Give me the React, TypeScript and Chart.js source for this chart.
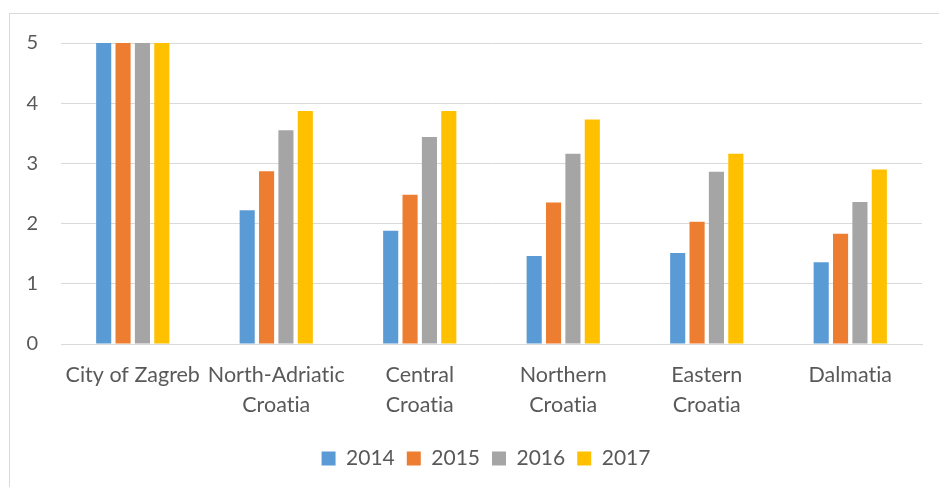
import React, { useEffect, useRef } from "react";
import { Chart, registerables } from "chart.js";

Chart.register(...registerables);

const categories: string[][] = [
  ["City of Zagreb"],
  ["North-Adriatic", "Croatia"],
  ["Central", "Croatia"],
  ["Northern", "Croatia"],
  ["Eastern", "Croatia"],
  ["Dalmatia"],
];
const years = ["2014", "2015", "2016", "2017"];
const values2014 = [5, 2.22, 1.88, 1.46, 1.51, 1.36];
const values2015 = [5, 2.87, 2.48, 2.35, 2.03, 1.83];
const values2016 = [5, 3.55, 3.44, 3.16, 2.86, 2.36];
const values2017 = [5, 3.87, 3.87, 3.73, 3.16, 2.9];
const colors = ["#5B9BD5", "#ED7D31", "#A5A5A5", "#FFC000"];
const yTicks = [0, 1, 2, 3, 4, 5];

const FONT = "Lato, 'Open Sans', sans-serif";
const TEXT = "#595959";

const frame = {
  id: "frame",
  beforeDraw(chart: any) {
    const ctx = chart.ctx;
    try {
      ctx.textRendering = "optimizeSpeed";
    } catch (e) {}
    ctx.save();
    ctx.fillStyle = "#ffffff";
    ctx.fillRect(0, 0, chart.width, chart.height);
    ctx.strokeStyle = "#D9D9D9";
    ctx.lineWidth = 1;
    ctx.strokeRect(9.5, 13.5, 2000, 2000);
    ctx.restore();
  },
  afterLayout(chart: any) {
    const lg = chart.legend;
    if (lg) {
      lg.left += 25;
      lg.right += 25;
    }
  },
};

export default function App() {
  const ref = useRef<HTMLCanvasElement | null>(null);
  useEffect(() => {
    if (!ref.current) return;
    const series = [values2014, values2015, values2016, values2017];
    const chart = new Chart(ref.current, {
      type: "bar",
      data: {
        labels: categories,
        datasets: years.map((y, i) => ({
          label: y,
          data: series[i],
          backgroundColor: colors[i],
          borderWidth: 0,
          barPercentage: 0.78,
          categoryPercentage: 0.54,
        })),
      },
      options: {
        animation: false,
        responsive: false,
        maintainAspectRatio: false,
        layout: { padding: { top: 43, right: 17, left: 0, bottom: 8 } },
        plugins: {
          tooltip: { enabled: false },
          legend: {
            position: "bottom",
            labels: {
              boxWidth: 14,
              boxHeight: 14,
              padding: 12,
              color: TEXT,
              font: { family: FONT, size: 21 },
            },
          },
        },
        scales: {
          x: {
            grid: { display: false, drawTicks: false },
            border: { display: true, color: "#D9D9D9", width: 1 },
            ticks: {
              color: TEXT,
              font: { family: FONT, size: 21.5, lineHeight: 1.4 },
              padding: 16,
              maxRotation: 0,
              autoSkip: false,
            },
            afterFit(scale: any) {
              scale.height = 92;
            },
          },
          y: {
            min: 0,
            max: 5,
            afterBuildTicks(scale: any) {
              scale.ticks = yTicks.map((v) => ({ value: v }));
            },
            grid: { color: "#D9D9D9", lineWidth: 1, drawTicks: false },
            border: { display: false },
            ticks: {
              color: TEXT,
              font: { family: FONT, size: 20 },
              padding: 23,
            },
            afterFit(scale: any) {
              scale.width = 61;
            },
          },
        },
      },
      plugins: [frame],
    });
    return () => chart.destroy();
  }, []);
  return (
    <div style={{ position: "fixed", left: 0, top: 0, width: 939, height: 487, background: "#fff" }}>
      <canvas ref={ref} width={939} height={487} style={{ width: 939, height: 487 }} />
    </div>
  );
}
